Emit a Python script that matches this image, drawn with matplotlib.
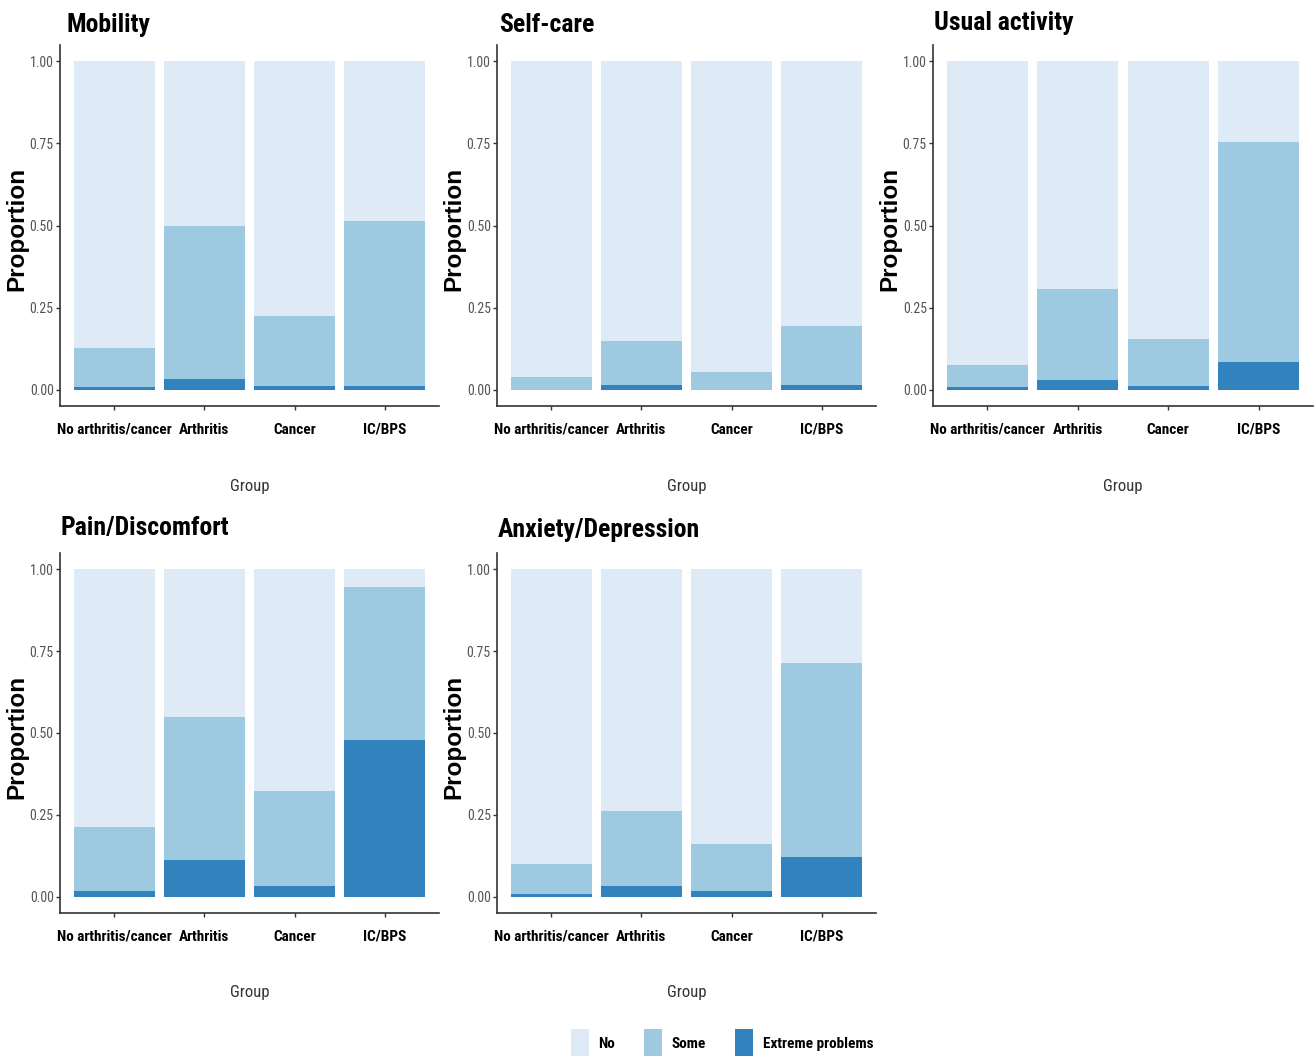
import numpy as np
import matplotlib
matplotlib.use("Agg")
import matplotlib.pyplot as plt
from matplotlib import font_manager
from matplotlib.patches import Patch

# data (proportion of each response level)
groups = ["No arthritis/cancer", "Arthritis", "Cancer", "IC/BPS"]
levels = ["No", "Some", "Extreme problems"]
titles = ["Mobility", "Self-care", "Usual activity", "Pain/Discomfort", "Anxiety/Depression"]

extreme = [
    [0.007, 0.033, 0.011, 0.011],
    [0.000, 0.015, 0.000, 0.015],
    [0.007, 0.028, 0.011, 0.085],
    [0.018, 0.113, 0.031, 0.480],
    [0.009, 0.031, 0.018, 0.122],
]
some = [
    [0.120, 0.467, 0.212, 0.503],
    [0.037, 0.134, 0.055, 0.178],
    [0.068, 0.278, 0.142, 0.668],
    [0.195, 0.435, 0.291, 0.465],
    [0.090, 0.230, 0.143, 0.592],
]
yticks = [0.0, 0.25, 0.5, 0.75, 1.0]
ytick_labels = ["0.00", "0.25", "0.50", "0.75", "1.00"]

colors = {"No": "#deebf7", "Some": "#9ecae1", "Extreme problems": "#3182bd"}

# pick a narrow sans (the reference uses Arial Narrow-like text)
bold_ok = {f.name for f in font_manager.fontManager.ttflist if f.weight >= 700}
narrow = "DejaVu Sans"
for cand in ["Liberation Sans Narrow", "Archivo Narrow", "Roboto Condensed", "Sofia Sans Condensed"]:
    if cand in bold_ok:
        narrow = cand
        break

W, H = 1314, 1056
fig = plt.figure(figsize=(W / 100, H / 100), dpi=100)

# panel rectangles in pixels: left, top, right, bottom
panels = [(60, 45, 439, 406), (497, 45, 876, 406), (933, 45, 1313, 406),
          (60, 553, 439, 913), (497, 553, 876, 913)]
title_dx = [0.016, 0.005, 0.003, 0.0, 0.003]
title_dy = [1.036, 1.036, 1.042, 1.05, 1.044]

x = np.arange(1, len(groups) + 1)
for i, (l, t, r, b) in enumerate(panels):
    ax = fig.add_axes([l / W, 1 - b / H, (r - l) / W, (b - t) / H])
    ext = np.array(extreme[i])
    sm = np.array(some[i])
    no = 1 - ext - sm
    ax.bar(x, ext, width=0.9, color=colors["Extreme problems"], linewidth=0)
    ax.bar(x, sm, width=0.9, bottom=ext, color=colors["Some"], linewidth=0)
    ax.bar(x, no, width=0.9, bottom=ext + sm, color=colors["No"], linewidth=0)
    ax.set_xlim(0.4, 4.6)
    ax.set_ylim(-0.05, 1.05)
    ax.set_yticks(yticks)
    ax.set_yticklabels(ytick_labels, family=narrow, fontsize=10, color="#555555")
    ax.set_xticks(x)
    ax.set_xticklabels(groups, family=narrow, fontsize=11, fontweight="bold", color="black")
    ax.tick_params(axis="y", length=3, width=1, color="#333333", pad=1.5)
    ax.tick_params(axis="x", length=3, width=1, color="#333333", pad=9)
    for s in ["top", "right"]:
        ax.spines[s].set_visible(False)
    for s in ["left", "bottom"]:
        ax.spines[s].set_color("#333333")
        ax.spines[s].set_linewidth(1.2)
    ax.set_ylabel("Proportion", family="Liberation Sans", fontsize=17.5, fontweight="bold")
    ax.yaxis.label.set_va("center")
    ax.yaxis.set_label_coords(-0.114, 0.49)
    ax.set_xlabel("Group", family=narrow, fontsize=12, color="#333333")
    ax.xaxis.label.set_va("center")
    ax.xaxis.set_label_coords(0.5, -0.222)
    ax.text(title_dx[i], title_dy[i], titles[i], transform=ax.transAxes,
            family=narrow, fontsize=18.5, fontweight="bold", va="baseline", ha="left")

handles = [Patch(facecolor=colors[k], edgecolor="none") for k in levels]
fig.legend(handles, levels, ncol=3, loc="center", bbox_to_anchor=(722 / W, 1 - 1043 / H),
           frameon=False, handlelength=1.2, handleheight=2.5, handletextpad=0.6,
           columnspacing=1.9, prop={"family": narrow, "size": 11, "weight": "bold"})

fig.savefig("out.png", dpi=100, facecolor="white")
